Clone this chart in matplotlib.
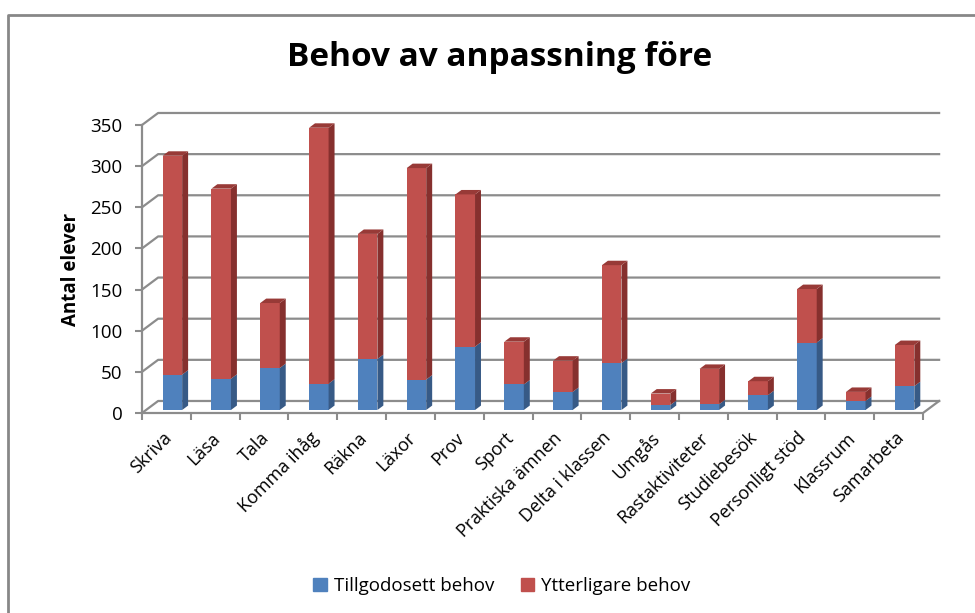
import numpy as np
import matplotlib.pyplot as plt
from matplotlib.patches import Patch
from matplotlib.lines import Line2D

plt.rcParams['font.family'] = ['Open Sans', 'DejaVu Sans']

kategorier = ['Skriva', 'Läsa', 'Tala', 'Komma ihåg', 'Räkna', 'Läxor', 'Prov', 'Sport',
              'Praktiska ämnen', 'Delta i klassen', 'Umgås', 'Rastaktiviteter',
              'Studiebesök', 'Personligt stöd', 'Klassrum', 'Samarbeta']
tillgodosett = [43, 38, 51, 32, 62, 37, 77, 31, 22, 57, 6, 7, 18, 82, 11, 29]
ytterligare = [266, 231, 79, 311, 152, 257, 185, 52, 38, 119, 14, 43, 17, 65, 11, 50]
y_ticks = [0, 50, 100, 150, 200, 250, 300, 350]

# farger (Excel-stil)
blue, blue_side, blue_top = '#4F81BD', '#375A86', '#41699C'
red, red_side, red_top = '#C0504D', '#86302E', '#983A37'
gridc = '#8C8C8C'

n = len(kategorier)
DX, DY = 0.33, 14.6      # djup i dataenheter (x, y)
f0, f1 = 0.25, 0.62      # stapelns fram/bak-djup
x0, W = 0.34, 0.40

fig = plt.figure(figsize=(9.75, 6.13), dpi=100)
ax = fig.add_axes([142 / 975, 200 / 613, 781 / 975, 288 / 613])
ax.set_xlim(0, n)
ax.set_ylim(0, 350)
for s in ax.spines.values():
    s.set_visible(False)

# bakvagg, sidovagg och golv
for v in y_ticks:
    ax.plot([0, DX, n + DX], [v, v + DY, v + DY], color=gridc, lw=1.6, zorder=1, clip_on=False)
ax.plot([0, n, n + DX], [0, 0, DY], color=gridc, lw=1.6, zorder=1, clip_on=False)
ax.plot([0, 0], [0, 350], color=gridc, lw=1.6, zorder=1, clip_on=False)


def stapel(bottom, height, c_front, c_side, c_top, top=False):
    xs = np.arange(n) + x0
    ax.bar(xs + f0 * DX, height, width=W, bottom=np.array(bottom) + f0 * DY,
           align='edge', color=c_front, lw=0, zorder=3, clip_on=False)
    for i in range(n):
        b, h = bottom[i], height[i]
        xr = xs[i] + W
        ax.fill([xr + f0 * DX, xr + f0 * DX, xr + f1 * DX, xr + f1 * DX],
                [b + f0 * DY, b + h + f0 * DY, b + h + f1 * DY, b + f1 * DY],
                color=c_side, lw=0, zorder=3, clip_on=False)
        if top:
            t = b + h
            xl = xs[i]
            ax.fill([xl + f0 * DX, xr + f0 * DX, xr + f1 * DX, xl + f1 * DX],
                    [t + f0 * DY, t + f0 * DY, t + f1 * DY, t + f1 * DY],
                    color=c_top, lw=0, zorder=3, clip_on=False)


stapel([0] * n, tillgodosett, blue, blue_side, blue_top)
stapel(tillgodosett, ytterligare, red, red_side, red_top, top=True)

ax.set_yticks(y_ticks)
ax.set_yticklabels([str(v) for v in y_ticks], fontsize=13.5)
ax.tick_params(axis='y', length=5, width=1.5, color=gridc, pad=9)

ax.set_xticks(np.arange(n) + 0.55)
ax.set_xticklabels(kategorier, rotation=45, ha='right', va='center',
                   rotation_mode='anchor', fontsize=13)
ax.tick_params(axis='x', which='major', length=0, pad=16)
ax.set_xticks(np.arange(n + 1), minor=True)
ax.tick_params(axis='x', which='minor', length=5, width=1.5, color=gridc)

ax.set_ylabel('Antal elever', fontsize=13.5, fontweight='bold')
ax.yaxis.set_label_coords(-0.078, 0.5)

fig.text(500 / 975, 1 - 57 / 613, 'Behov av anpassning före', ha='center', va='center',
         fontsize=24, fontweight='bold')

# ram runt diagrammet
fig.add_artist(Line2D([8 / 975, 8 / 975, 1], [0, 1 - 15 / 613, 1 - 15 / 613],
                      transform=fig.transFigure, color='#878787', lw=2))

handles = [Patch(color=blue, label='Tillgodosett behov'),
           Patch(color=red, label='Ytterligare behov')]
fig.legend(handles=handles, loc='center', bbox_to_anchor=(502 / 975, 1 - 586 / 613),
           ncol=2, frameon=False, fontsize=13.5, handlelength=0.7, handleheight=0.7,
           handletextpad=0.4, columnspacing=1.4)

fig.savefig('out.png', dpi=100)
